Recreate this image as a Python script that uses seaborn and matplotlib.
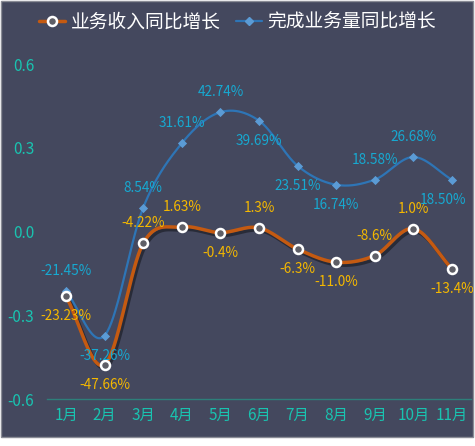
import numpy as np
import pandas as pd
import matplotlib
matplotlib.use("Agg")
import matplotlib.pyplot as plt
import matplotlib.patheffects as pe
from matplotlib.patches import Rectangle
from matplotlib.lines import Line2D
import seaborn as sns

months = ["1月", "2月", "3月", "4月", "5月", "6月", "7月", "8月", "9月", "10月", "11月"]
revenue_yoy = [-0.2323, -0.4766, -0.0422, 0.0163, -0.004, 0.013, -0.063, -0.110, -0.086, 0.010, -0.134]
revenue_labels = ["-23.23%", "-47.66%", "-4.22%", "1.63%", "-0.4%", "1.3%", "-6.3%", "-11.0%", "-8.6%", "1.0%", "-13.4%"]
volume_yoy = [-0.2145, -0.3726, 0.0854, 0.3161, 0.4274, 0.3969, 0.2351, 0.1674, 0.1858, 0.2668, 0.1850]
volume_labels = ["-21.45%", "-37.26%", "8.54%", "31.61%", "42.74%", "39.69%", "23.51%", "16.74%", "18.58%", "26.68%", "18.50%"]
series_names = ["业务收入同比增长", "完成业务量同比增长"]
y_ticks = [-0.6, -0.3, 0.0, 0.3, 0.6]

# label placement: +1 above, -1 below
rev_side = [-1, -1, 1, 1, -1, 1, -1, -1, 1, 1, -1]
vol_side = [1, -1, 1, 1, 1, -1, -1, -1, 1, 1, -1]

BG = "#44485E"
ORANGE = "#C55A11"
BLUE_LINE = "#2E75B6"
BLUE_MK = "#5B9BD5"
LBL_Y = "#F5B800"
LBL_B = "#17A9D1"
TEAL = "#19C3B0"

sns.set_theme(style="dark")
plt.rcParams['font.family'] = ['Noto Sans CJK SC', 'DejaVu Sans']
plt.rcParams['axes.unicode_minus'] = False


def catmull_rom(y, n=40):
    y = np.asarray(y, dtype=float)
    x = np.arange(len(y), dtype=float)
    P = np.concatenate([[2 * y[0] - y[1]], y, [2 * y[-1] - y[-2]]])
    X = np.concatenate([[x[0] - 1], x, [x[-1] + 1]])
    xs, ys = [], []
    for i in range(1, len(P) - 2):
        t = np.linspace(0, 1, n, endpoint=False)
        p0, p1, p2, p3 = P[i - 1], P[i], P[i + 1], P[i + 2]
        q0, q1, q2, q3 = X[i - 1], X[i], X[i + 1], X[i + 2]
        f = lambda a0, a1, a2, a3: 0.5 * ((2 * a1) + (-a0 + a2) * t + (2 * a0 - 5 * a1 + 4 * a2 - a3) * t ** 2 + (-a0 + 3 * a1 - 3 * a2 + a3) * t ** 3)
        xs.append(f(q0, q1, q2, q3))
        ys.append(f(p0, p1, p2, p3))
    xs.append([x[-1]])
    ys.append([y[-1]])
    return np.concatenate(xs), np.concatenate(ys)


fig = plt.figure(figsize=(4.75, 4.46), dpi=100)
fig.patch.set_facecolor("white")
W, H = 475, 446
fig.patches.append(Rectangle((0.5 / W, (H - 437) / H), 472 / W, 436.5 / H, transform=fig.transFigure,
                             facecolor=BG, edgecolor="#8A8C96", linewidth=1.0, zorder=-5))

ax = fig.add_axes([46.7 / W, 47 / H, (471.3 - 46.7) / W, (382 - 47) / H])
ax.set_zorder(2)
ax.patch.set_alpha(0)

xi = np.arange(len(months))
rx, ry = catmull_rom(revenue_yoy)
vx, vy = catmull_rom(volume_yoy)

sns.lineplot(x=vx, y=vy, ax=ax, color=BLUE_LINE, linewidth=1.6, sort=False, zorder=3)
sns.scatterplot(x=xi, y=volume_yoy, ax=ax, marker="D", s=22, color=BLUE_MK, edgecolor=BLUE_MK, linewidth=0, zorder=4)

sns.lineplot(x=rx, y=ry, ax=ax, color=ORANGE, linewidth=2.5, sort=False, zorder=5,
             path_effects=[pe.SimpleLineShadow(offset=(1.5, -2), shadow_color="black", alpha=0.4), pe.Normal()])
sns.scatterplot(x=xi, y=revenue_yoy, ax=ax, marker="o", s=42, color="#5E5E66", edgecolor="white", linewidth=1.8, zorder=6)

for i in range(len(months)):
    dx = -9 if i == len(months) - 1 else 0
    ax.annotate(volume_labels[i], (xi[i], volume_yoy[i]), xytext=(dx, 20 * vol_side[i]), textcoords="offset pixels",
                ha="center", va="center", color=LBL_B, fontsize=9.8, zorder=7)
    ax.annotate(revenue_labels[i], (xi[i], revenue_yoy[i]), xytext=(0, 20 * rev_side[i]), textcoords="offset pixels",
                ha="center", va="center", color=LBL_Y, fontsize=9.8, zorder=7)

ax.set_xlim(-0.5, len(months) - 0.5)
ax.set_ylim(-0.6, 0.6)
ax.set_xticks(xi)
ax.set_xticklabels(months)
ax.set_yticks(y_ticks)
ax.set_yticklabels([f"{v:.1f}" for v in y_ticks])
ax.tick_params(axis="both", colors=TEAL, labelsize=11, length=0)
ax.tick_params(axis="y", pad=9)
ax.tick_params(axis="x", pad=6)
ax.grid(False)
ax.set_xlabel("")
ax.set_ylabel("")
for s in ["top", "right", "left"]:
    ax.spines[s].set_visible(False)
ax.spines["bottom"].set_color("#2E7F7A")
ax.spines["bottom"].set_linewidth(1.0)

handles = [
    Line2D([0], [0], color=ORANGE, lw=2.5, marker="o", markersize=6.5, markerfacecolor="#5E5E66",
           markeredgecolor="white", markeredgewidth=1.8),
    Line2D([0], [0], color=BLUE_LINE, lw=1.6, marker="D", markersize=4.5, markerfacecolor=BLUE_MK,
           markeredgecolor=BLUE_MK),
]
leg = fig.legend(handles, series_names, loc="center", bbox_to_anchor=(0.5, (H - 22) / H), ncol=2,
                 frameon=False, fontsize=13.5, labelcolor="white", handlelength=1.4, handletextpad=0.3,
                 columnspacing=0.8)

fig.savefig("out.png", dpi=100, facecolor=fig.get_facecolor())
